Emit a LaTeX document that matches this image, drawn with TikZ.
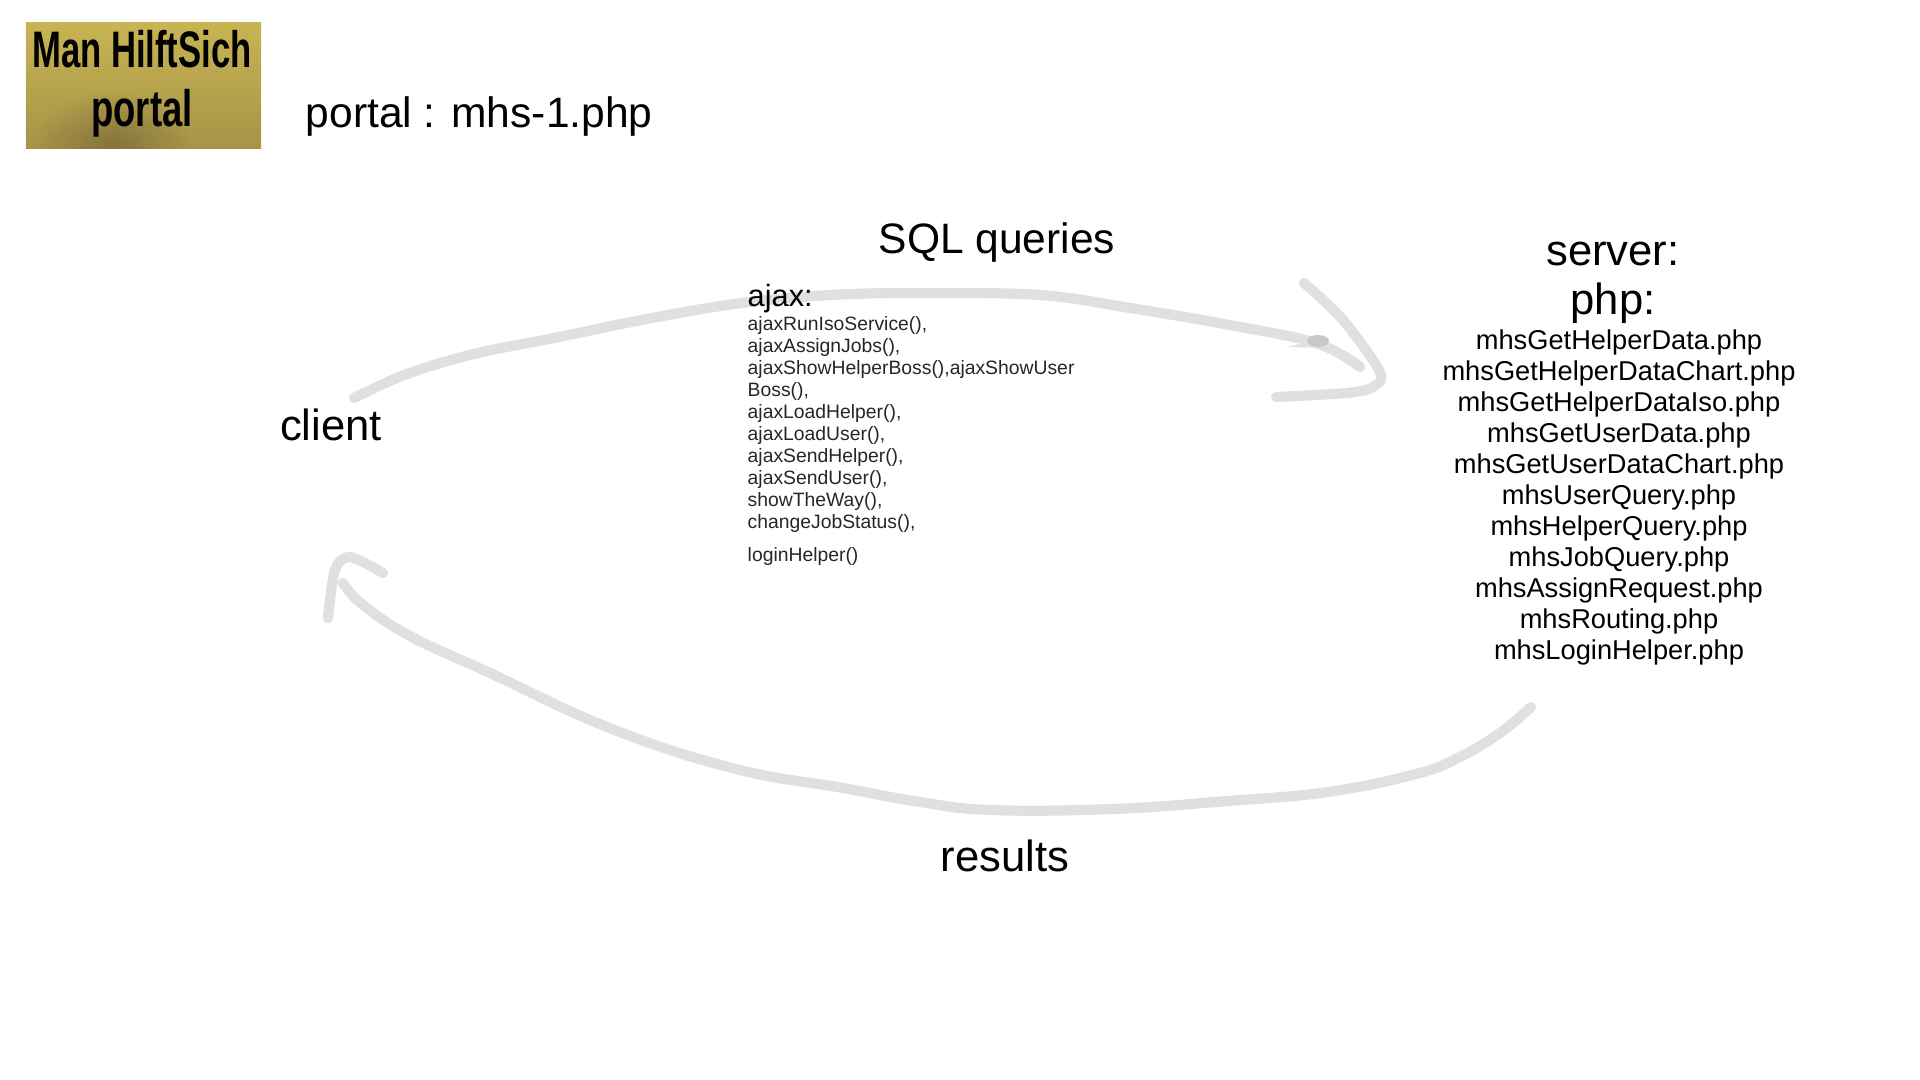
\documentclass[tikz,border=0pt]{standalone}
\usepackage{xcolor}
\usepackage{fontspec}
\setmainfont{Liberation Sans}
\usetikzlibrary{positioning, fadings}
\definecolor{strokegray}{HTML}{E0E0E0}
\definecolor{overlapgray}{HTML}{C8C8C8}
\definecolor{logolight}{HTML}{C8B452}
\definecolor{logodark}{HTML}{A69448}
\definecolor{logospot}{HTML}{6E5E34}
\tikzfading[name=spotfade, inner color=transparent!40, outer color=transparent!100]
\tikzset{
  heading/.style={inner sep=0pt, font=\fontsize{12.4}{14}\selectfont},
  wideheading/.style={inner sep=0pt, font=\fontsize{12.1}{14}\selectfont},
  phpfiles/.style={inner sep=0pt, align=center, font=\fontsize{7.75}{8.82}\selectfont},
  ajaxfuncs/.style={inner sep=0pt, align=left, text=black!85, font=\fontsize{5.5}{6.26}\selectfont},
  handstroke/.style={line width=2.9pt, color=strokegray, line cap=round, line join=round},
  logotext/.style={inner sep=0pt, anchor=base, font=\fontsize{14.6}{16}\selectfont\bfseries},
}

\begin{document}
\begin{tikzpicture}[x=0.01cm, y=-0.01cm]
  \useasboundingbox (0,0) rectangle (1920,1080);

  % --- Logo ---
  \node[minimum width=2.35cm, minimum height=1.25cm, inner sep=0pt,
        top color=logolight, bottom color=logodark] (logo) at (143.5,85.5) {};
  \begin{scope}
    \clip (logo.south west) rectangle (logo.north east);
    \fill[logospot, path fading=spotfade] (112,146) ellipse (80 and 55);
  \end{scope}
  \node[logotext] (logotop) at (142,68) {\scalebox{.675}[1]{Man HilftSich}};
  \node[logotext] (logobottom) at (142,127) {\scalebox{.71}[1]{portal}};

  % --- Titles ---
  \node[wideheading, anchor=west] (title) at (305,117) {portal : mhs-1.php};
  \node[wideheading] (sql) at (997,243) {SQL queries};
  \node[heading] (client) at (331,425) {client};
  \node[heading] (results) at (1005,856) {results};

  % --- Server ---
  \node[heading, align=center] (server) at (1613,283) {server:\\php:};
  \node[phpfiles] (files) at (1619,497.5) {mhsGetHelperData.php\\
    mhsGetHelperDataChart.php\\
    mhsGetHelperDataIso.php\\
    mhsGetUserData.php\\
    mhsGetUserDataChart.php\\
    mhsUserQuery.php\\
    mhsHelperQuery.php\\
    mhsJobQuery.php\\
    mhsAssignRequest.php\\
    mhsRouting.php\\
    mhsLoginHelper.php};

  % --- Stroke coordinates ---
  \coordinate (reqstart) at (354,398);
  \coordinate (reqend) at (1360,367);
  \coordinate (reqheadtop) at (1304,283);
  \coordinate (reqheadbottom) at (1276,397);
  \coordinate (resstart) at (1531,707);
  \coordinate (resend) at (343,583);
  \coordinate (resheadleft) at (328,618);
  \coordinate (resheadright) at (383,573);

  % --- Request arrow ---
  \fill[strokegray] (1287,347) -- (1312,341) -- (1322,348) -- cycle;
  \draw[handstroke] plot[smooth, tension=0.6] coordinates {(reqstart) (407,374) (474,354) (554,338)
    (652,318) (742,303) (831,295) (920,293) (1040,295) (1130,308) (1224,324) (1316,343) (reqend)};
  \draw[handstroke] plot[smooth, tension=0.5] coordinates {(reqheadtop) (1343,320) (1380,372)
    (1373,387) (1347,393) (reqheadbottom)};
  \fill[overlapgray] (1318,341) ellipse (11 and 6);

  % --- Result arrow ---
  \draw[handstroke] plot[smooth, tension=0.7] coordinates {(resstart) (1500,733) (1458,758) (1416,774)
    (1328,792) (1228,801) (1113,809) (991,810) (920,802) (843,788) (736,769)
    (612,729) (490,673) (410,636) (362,604) (resend)};
  \draw[handstroke] plot[smooth, tension=0.5] coordinates {(resheadleft) (335,570) (350,557) (resheadright)};

  % --- Ajax ---
  \node[inner sep=0pt, anchor=west, font=\fontsize{8.75}{10}\selectfont] (ajax) at (747,299) {ajax:};
  \node[ajaxfuncs, anchor=north west] (funcs) at (747,316) {ajaxRunIsoService(),\\
    ajaxAssignJobs(),\\
    ajaxShowHelperBoss(),ajaxShowUser\\
    Boss(),\\
    ajaxLoadHelper(),\\
    ajaxLoadUser(),\\
    ajaxSendHelper(),\\
    ajaxSendUser(),\\
    showTheWay(),\\
    changeJobStatus(),\\[2.9pt]
    loginHelper()};
\end{tikzpicture}
\end{document}
